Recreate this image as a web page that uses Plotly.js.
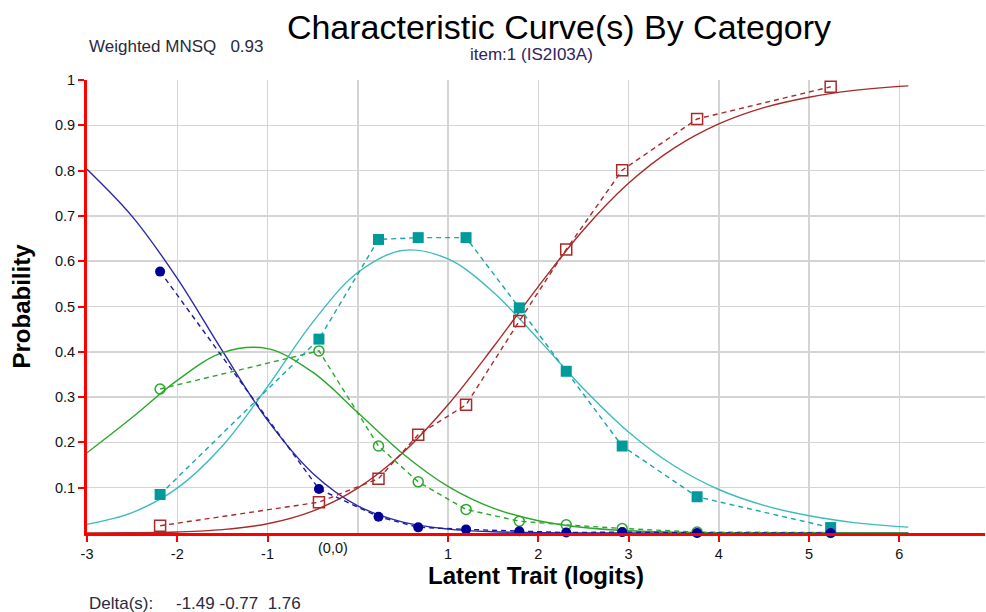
<!DOCTYPE html>
<html>
<head>
<meta charset="utf-8">
<script src="https://cdn.plot.ly/plotly-3.0.1.min.js"></script>
<style>html,body{margin:0;padding:0;background:#fff;}#chart{width:986px;height:612px;}</style>
</head>
<body>
<div id="chart"></div>
<script>
// Model (expected) curves
const modelX = [-3, -2.5, -2, -1.5, -1, -0.5, 0, 0.5, 1, 1.5, 2, 2.5, 3, 3.5, 4, 4.5, 5, 5.5, 6, 6.1];
const modelCat0 = [0.803, 0.699, 0.562, 0.402, 0.249, 0.132, 0.060, 0.024, 0.0086, 0.0028, 0.0008, 0.0002, 0.0001, 0, 0, 0, 0, 0, 0, 0];
const modelCat1 = [0.177, 0.255, 0.337, 0.398, 0.407, 0.355, 0.266, 0.175, 0.103, 0.055, 0.027, 0.012, 0.005, 0.002, 0.0008, 0.0003, 0.0001, 0, 0, 0];
const modelCat2 = [0.019, 0.045, 0.099, 0.192, 0.323, 0.465, 0.575, 0.624, 0.605, 0.532, 0.428, 0.319, 0.223, 0.149, 0.096, 0.061, 0.038, 0.023, 0.014, 0.013];
const modelCat3 = [0.0002, 0.0006, 0.0023, 0.0074, 0.0205, 0.0485, 0.099, 0.177, 0.283, 0.410, 0.544, 0.669, 0.772, 0.849, 0.903, 0.939, 0.962, 0.977, 0.986, 0.987];

// Observed proportions
const obsX = [-2.19, -0.43, 0.23, 0.67, 1.20, 1.79, 2.31, 2.93, 3.76, 5.24];
const obsCat0 = [0.577, 0.097, 0.036, 0.0125, 0.008, 0.004, 0.001, 0.002, 0.0, 0.0];
const obsCat1 = [0.318, 0.402, 0.192, 0.113, 0.052, 0.026, 0.018, 0.010, 0.002, 0.001];
const obsCat2 = [0.085, 0.428, 0.648, 0.652, 0.652, 0.497, 0.357, 0.192, 0.080, 0.012];
const obsCat3 = [0.016, 0.068, 0.120, 0.217, 0.283, 0.468, 0.626, 0.801, 0.914, 0.985];

const xTickVals = [-3, -2, -1, 1, 2, 3, 4, 5, 6];
const xTickText = ["-3", "-2", "-1", "1", "2", "3", "4", "5", "6"];
const yTickVals = [0.1, 0.2, 0.3, 0.4, 0.5, 0.6, 0.7, 0.8, 0.9, 1];
const yTickText = ["0.1", "0.2", "0.3", "0.4", "0.5", "0.6", "0.7", "0.8", "0.9", "1"];

const chartTitle = "Characteristic Curve(s) By Category";
const itemLabel = "item:1 (IS2I03A)";
const mnsqLabel = "Weighted MNSQ&nbsp;&nbsp;&nbsp;0.93";
const deltaLabel = "Delta(s):";
const deltaValues = "-1.49 -0.77&nbsp;&nbsp;1.76";
const originLabel = "(0,0)";

const FONT = "Arial, 'Liberation Sans', sans-serif";

function modelTrace(y, color) {
  return {x: modelX, y: y, type: 'scatter', mode: 'lines',
    line: {color: color, width: 1.4, shape: 'spline', smoothing: 1},
    hoverinfo: 'skip', showlegend: false, cliponaxis: false};
}
function obsTrace(y, lineColor, marker) {
  return {x: obsX, y: y, type: 'scatter', mode: 'lines+markers',
    line: {color: lineColor, width: 1.4, dash: '5px,4px'},
    marker: marker, showlegend: false, cliponaxis: false};
}

const data = [
  modelTrace(modelCat0, '#2a2aa8'),
  modelTrace(modelCat1, '#2aa82a'),
  modelTrace(modelCat2, '#3cbcbc'),
  modelTrace(modelCat3, '#aa2a2a'),
  obsTrace(obsCat1, '#2aa82a', {symbol: 'circle-open', size: 10, color: '#2aa82a', line: {width: 1.5, color: '#2aa82a'}}),
  obsTrace(obsCat3, '#aa2a2a', {symbol: 'square-open', size: 11, color: '#aa2a2a', line: {width: 1.5, color: '#aa2a2a'}}),
  obsTrace(obsCat2, '#1aa6a6', {symbol: 'square', size: 11, color: '#009a9a'}),
  obsTrace(obsCat0, '#1a1aa0', {symbol: 'circle', size: 10, color: '#000099'})
];

const SMALL = 17;
const layout = {
  width: 986, height: 612,
  margin: {l: 87, r: 1, t: 80, b: 79},
  paper_bgcolor: '#ffffff', plot_bgcolor: '#ffffff',
  font: {family: FONT, size: 14, color: '#111'},
  title: {text: chartTitle, font: {family: FONT, size: 34, color: '#000'},
    x: 0.5256, xref: 'paper', xanchor: 'center', y: 1 - 27 / 612, yref: 'container', yanchor: 'middle'},
  xaxis: {
    range: [-3, 6.95], tickvals: xTickVals, ticktext: xTickText,
    showgrid: true, gridcolor: '#d4d4d4', gridwidth: 1.5,
    minor: {dtick: 1, tick0: 0, showgrid: true, gridcolor: '#d4d4d4', gridwidth: 1.5, ticks: ''},
    showline: true, linecolor: '#ff0000', linewidth: 3,
    ticks: 'outside', ticklen: 6, tickwidth: 2, tickcolor: '#ff0000',
    tickfont: {family: FONT, size: 14.5, color: '#111'},
    zeroline: false, fixedrange: true,
    title: {text: 'Latent Trait (logits)', font: {family: FONT, size: 24, color: '#000', weight: 'bold'}, standoff: 6}
  },
  yaxis: {
    range: [0, 1], tickvals: yTickVals, ticktext: yTickText,
    showgrid: true, gridcolor: '#d4d4d4', gridwidth: 1.5,
    showline: true, linecolor: '#ff0000', linewidth: 3,
    ticks: 'outside', ticklen: 6, tickwidth: 2, tickcolor: '#ff0000',
    tickfont: {family: FONT, size: 14.5, color: '#111'},
    zeroline: false, fixedrange: true,
    title: {text: 'Probability', font: {family: FONT, size: 24, color: '#000', weight: 'bold'}, standoff: 18}
  },
  annotations: [
    {text: itemLabel, xref: 'paper', yref: 'paper', x: (531 - 87) / 898, y: (612 - 55 - 79) / 453, xanchor: 'center', yanchor: 'middle', showarrow: false,
      font: {family: FONT, size: SMALL, color: '#2e2260'}},
    {text: mnsqLabel, xref: 'paper', yref: 'paper', x: 0, y: (612 - 46 - 79) / 453, xanchor: 'left', yanchor: 'middle', showarrow: false,
      font: {family: FONT, size: SMALL, color: '#2a2a40'}},
    {text: deltaLabel, xref: 'paper', yref: 'paper', x: 0, y: (612 - 603 - 79) / 453, xanchor: 'left', yanchor: 'middle', showarrow: false,
      font: {family: FONT, size: SMALL, color: '#2a2a40'}},
    {text: deltaValues, xref: 'paper', yref: 'paper', x: (174 - 87) / 898, y: (612 - 603 - 79) / 453, xanchor: 'left', yanchor: 'middle', showarrow: false,
      font: {family: FONT, size: SMALL, color: '#2a2a40'}},
    {text: originLabel, xref: 'x', yref: 'paper', x: -0.27, y: -15 / 453, xanchor: 'center', yanchor: 'middle', showarrow: false,
      font: {family: FONT, size: 14.5, color: '#111'}}
  ]
};

Plotly.newPlot('chart', data, layout, {displayModeBar: false, staticPlot: true});
</script>
</body>
</html>
